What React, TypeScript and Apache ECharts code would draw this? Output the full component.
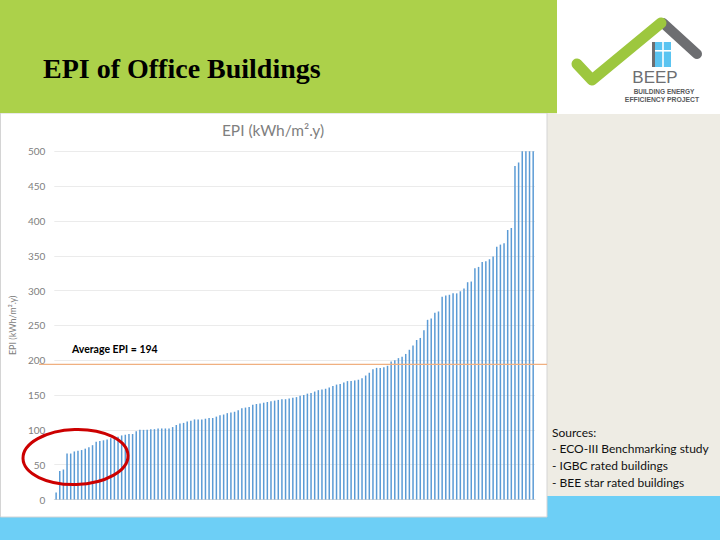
import React, { useEffect, useRef } from "react";
import * as echarts from "echarts";

// EPI values (kWh/m².y) of office buildings, sorted ascending; bars reaching the top are clipped at 500
const epiValues = [
  10, 41, 43, 66, 66, 69, 70, 71, 73, 75,
  78, 83, 84, 85, 86, 88, 89, 90, 92, 93,
  94, 94, 98, 100, 100, 100, 101, 101, 102, 102,
  102, 102, 104, 107, 109, 110, 112, 113, 115, 115,
  115, 116, 117, 117, 119, 121, 122, 124, 125, 126,
  128, 131, 132, 133, 136, 137, 138, 139, 140, 141,
  142, 143, 144, 144, 145, 146, 147, 149, 150, 152,
  153, 155, 157, 158, 159, 161, 163, 165, 166, 168,
  170, 170, 171, 172, 174, 178, 182, 187, 189, 189,
  190, 192, 198, 200, 203, 205, 209, 215, 221, 229,
  232, 243, 258, 260, 268, 270, 291, 293, 294, 296,
  296, 299, 303, 312, 313, 332, 334, 341, 342, 345,
  349, 363, 366, 368, 387, 390, 479, 484, 500, 500,
  500, 500,
];
const buildingIds = epiValues.map((_, i) => String(i + 1));
const Y_MIN = 0;
const Y_MAX = 500;
const Y_INTERVAL = 50;
const AVERAGE_EPI = 194;
const averageLine = [
  [0, AVERAGE_EPI],
  [1, AVERAGE_EPI],
];
const slideTitle = "EPI of Office Buildings";
const chartTitle = "EPI (kWh/m².y)";
const yAxisName = "EPI (kWh/m².y)";
const sourcesLines = [
  "Sources:",
  "- ECO-III Benchmarking study",
  "- IGBC rated buildings",
  "- BEE star rated buildings",
];

export default function App() {
  const ref = useRef<HTMLDivElement>(null);

  useEffect(() => {
    const chart = echarts.init(ref.current!, null, { renderer: "svg" });
    const gridTop = 151.3;
    const gridBottom = 40.5;

    const graphicElements: any[] = [
      // backgrounds
      { type: "rect", z: -20, shape: { x: 0, y: 0, width: 720, height: 540 }, style: { fill: "#eeece4" }, silent: true },
      { type: "rect", z: -19, shape: { x: 0, y: 496, width: 720, height: 44 }, style: { fill: "#6dcff6" }, silent: true },
      { type: "rect", z: -18, shape: { x: 0.5, y: 113, width: 546.5, height: 404 }, style: { fill: "#ffffff", stroke: "#d4d4d4", lineWidth: 1 }, silent: true },
      { type: "rect", z: -17, shape: { x: 0, y: 0, width: 557, height: 113 }, style: { fill: "#acd14a" }, silent: true },
      { type: "rect", z: -17, shape: { x: 557, y: 0, width: 163, height: 114 }, style: { fill: "#ffffff" }, silent: true },
      // slide title
      {
        type: "text", z: 10, x: 43, y: 68,
        style: { text: slideTitle, fill: "#000000", font: "bold 28px 'Liberation Serif'", verticalAlign: "middle", align: "left" },
      },
      // chart title
      {
        type: "text", z: 10, x: 273, y: 130,
        style: { text: chartTitle, fill: "#7f7f7f", font: "15.5px Lato", verticalAlign: "middle", align: "center" },
      },
      // logo: roof + check
      {
        type: "line", z: 10,
        shape: { x1: 663, y1: 23, x2: 697, y2: 54 },
        style: { stroke: "#6d6e71", lineWidth: 10, lineCap: "round" },
      },
      {
        type: "polyline", z: 11,
        shape: { points: [[577, 64], [592, 80], [661, 23]] },
        style: { stroke: "#9dc73e", lineWidth: 11, lineCap: "round", lineJoin: "round", fill: null },
      },
      { type: "rect", z: 10, shape: { x: 652, y: 42, width: 3, height: 25 }, style: { fill: "#6d6e71" } },
      { type: "rect", z: 10, shape: { x: 655, y: 42, width: 16, height: 25 }, style: { fill: "#5bc4f1" } },
      { type: "rect", z: 11, shape: { x: 662.2, y: 42, width: 1.6, height: 25 }, style: { fill: "#ffffff" } },
      { type: "rect", z: 11, shape: { x: 655, y: 50, width: 16, height: 1.6 }, style: { fill: "#ffffff" } },
      {
        type: "text", z: 10, x: 655, y: 77.5,
        style: { text: "BEEP", fill: "#6d6e71", font: "17px 'Liberation Sans'", align: "center", verticalAlign: "middle" },
      },
      {
        type: "text", z: 10, x: 664, y: 91,
        style: { text: "BUILDING ENERGY", fill: "#58595b", font: "bold 6.5px 'Liberation Sans'", align: "center", verticalAlign: "middle" },
      },
      {
        type: "text", z: 10, x: 662, y: 99,
        style: { text: "EFFICIENCY PROJECT", fill: "#58595b", font: "bold 6.8px 'Liberation Sans'", align: "center", verticalAlign: "middle" },
      },
      // red highlight ellipse
      {
        type: "ellipse", z: 20, x: 75.5, y: 457, rotation: 0.03,
        shape: { cx: 0, cy: 0, rx: 52.5, ry: 27.5 },
        style: { fill: null, stroke: "#cc0000", lineWidth: 3 },
      },
    ];
    sourcesLines.forEach((t, i) => {
      graphicElements.push({
        type: "text", z: 10, x: 552, y: 432 + i * 16.7,
        style: { text: t, fill: "#111111", font: "12px Lato", verticalAlign: "middle", align: "left" },
      });
    });

    chart.setOption({
      animation: false,
      backgroundColor: "transparent",
      textStyle: { fontFamily: "Lato" },
      graphic: { elements: graphicElements },
      grid: [
        { left: 49, right: 185, top: gridTop, bottom: gridBottom, containLabel: false },
        { left: 39, right: 173, top: gridTop, bottom: gridBottom, containLabel: false },
      ],
      xAxis: [
        {
          type: "category",
          gridIndex: 0,
          data: buildingIds,
          boundaryGap: true,
          axisLabel: { show: false },
          axisTick: { show: false },
          axisLine: { show: true, lineStyle: { color: "#d9d9d9", width: 1 } },
        },
        { type: "value", gridIndex: 1, min: 0, max: 1, show: false },
      ],
      yAxis: [
        {
          type: "value",
          gridIndex: 0,
          min: Y_MIN,
          max: Y_MAX,
          interval: Y_INTERVAL,
          axisLine: { show: false },
          axisTick: { show: false },
          axisLabel: { color: "#808080", fontSize: 10, margin: 9, fontFamily: "Lato" },
          splitLine: { lineStyle: { color: "#ebebeb", width: 1 } },
          name: yAxisName,
          nameLocation: "middle",
          nameGap: 31,
          nameRotate: 90,
          nameTextStyle: { color: "#808080", fontSize: 9, fontFamily: "Lato" },
        },
        { type: "value", gridIndex: 1, min: Y_MIN, max: Y_MAX, show: false },
      ],
      series: [
        {
          type: "bar",
          xAxisIndex: 0,
          yAxisIndex: 0,
          data: epiValues,
          barWidth: 1.5,
          itemStyle: { color: "#5b9bd5" },
          silent: true,
          z: 2,
        },
        {
          type: "line",
          xAxisIndex: 1,
          yAxisIndex: 1,
          data: averageLine,
          symbol: "none",
          silent: true,
          z: 3,
          lineStyle: { color: "#f0b080", width: 1.2 },
          markPoint: {
            silent: true,
            symbol: "rect",
            symbolSize: 0,
            data: [
              {
                coord: [0.055, AVERAGE_EPI],
                label: {
                  show: true,
                  formatter: `Average EPI = ${AVERAGE_EPI}`,
                  position: "insideBottomLeft",
                  offset: [0, -5],
                  color: "#000000",
                  fontWeight: "bold",
                  fontSize: 10.5,
                  fontFamily: "Lato",
                },
              },
            ],
          },
        },
      ],
    });
    return () => chart.dispose();
  }, []);

  return (
    <div
      ref={ref}
      style={{ position: "absolute", left: 0, top: 0, width: 720, height: 540 }}
    />
  );
}
